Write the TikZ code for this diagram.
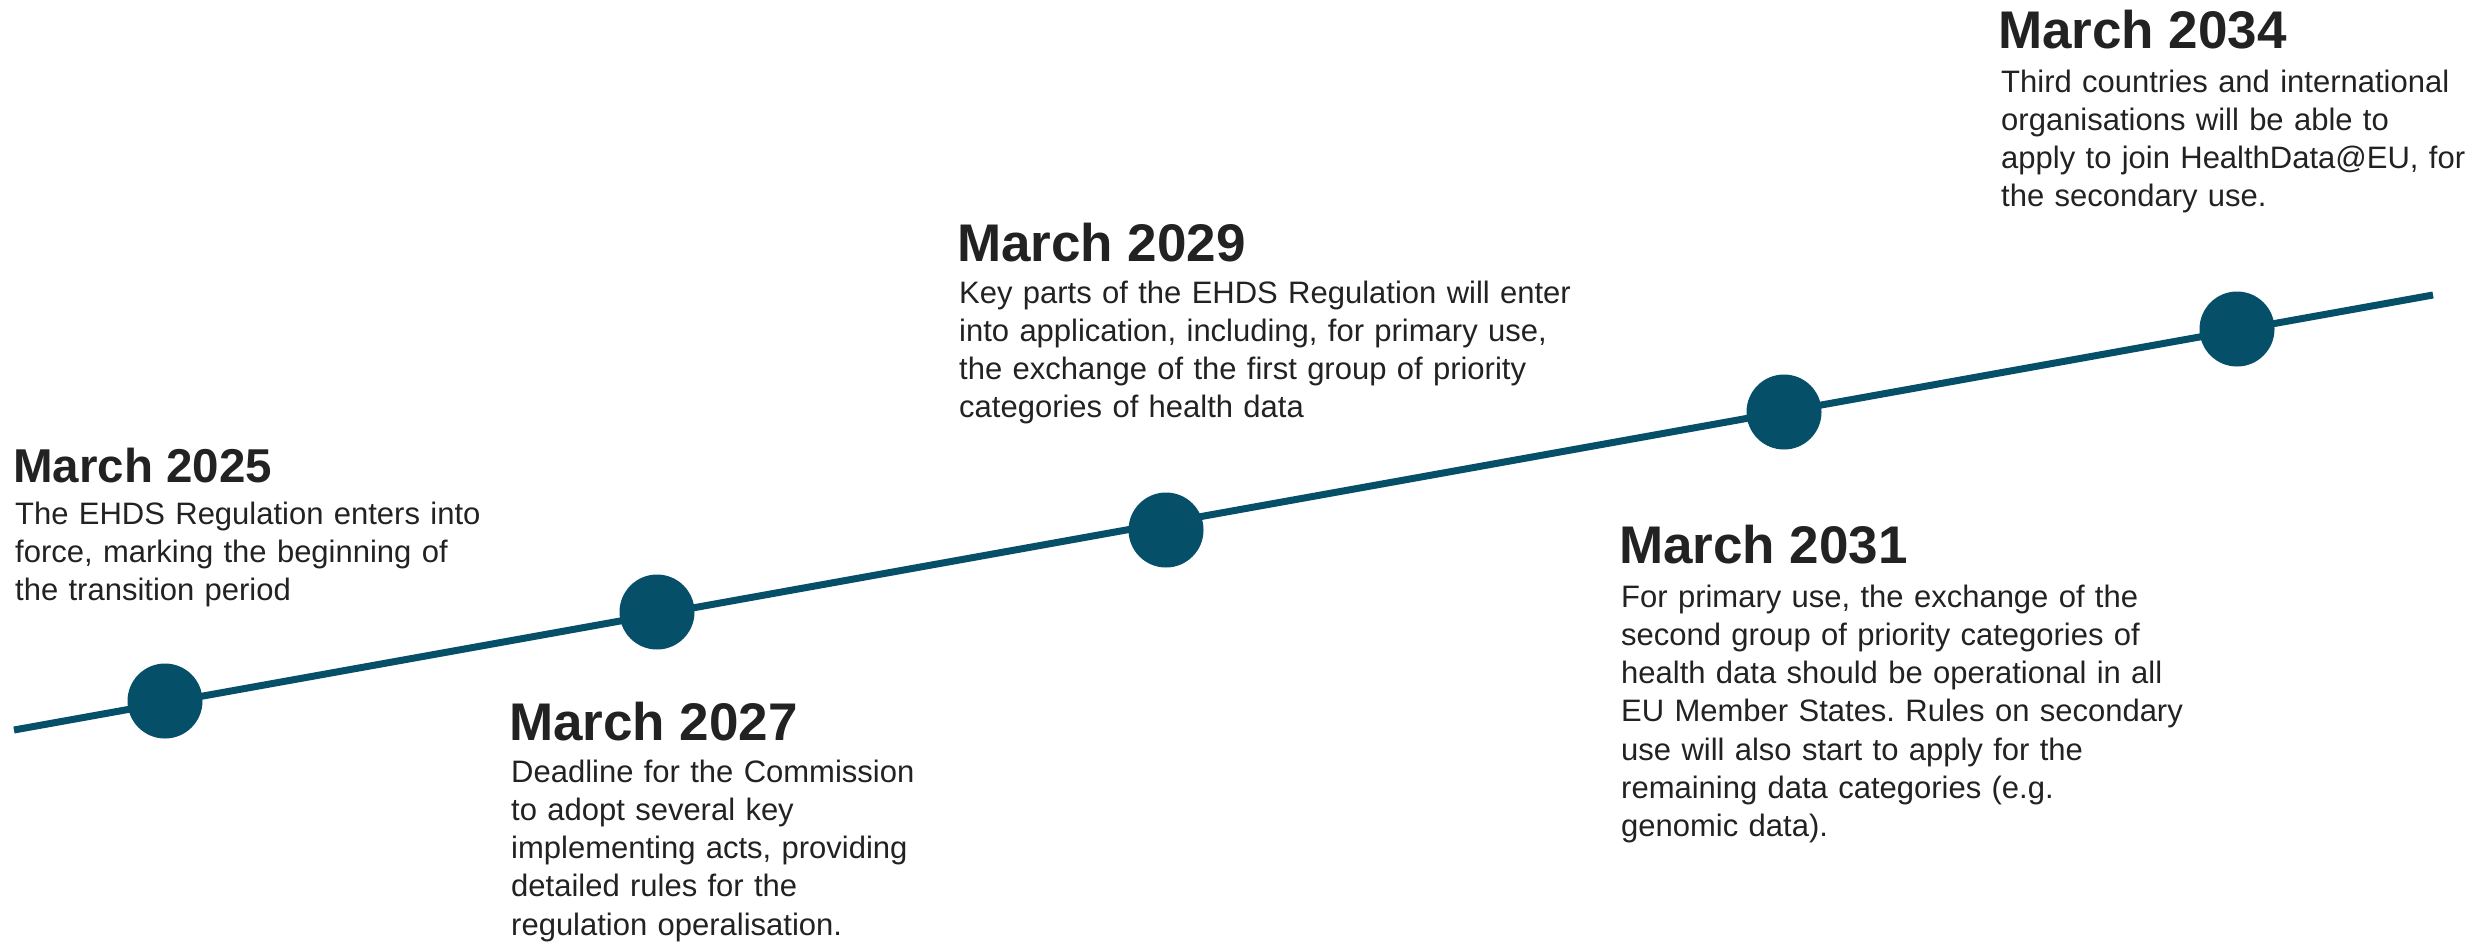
\documentclass[tikz,border=0pt]{standalone}
\usepackage{fontspec}
\setmainfont{Liberation Sans}
\usepackage{xcolor}
\definecolor{ehdsblue}{HTML}{054F69}
\definecolor{ehdsink}{HTML}{222222}
\frenchspacing
\tikzset{
  milestone/.style={circle,fill=ehdsblue,inner sep=0pt,minimum size=75pt},
  datelabel/.style={anchor=base west,inner sep=0pt,text=ehdsink,font=\bfseries\fontsize{53}{60}\selectfont},
  desclabel/.style={anchor=base west,inner sep=0pt,text=ehdsink,align=left,text width=800pt,font=\fontsize{31}{38.3}\selectfont},
}
\begin{document}
\begin{tikzpicture}[x=1pt,y=-1pt]
    \useasboundingbox (0,0) rectangle (2478,943);
    \coordinate (S) at (14,730);
    \coordinate (E) at (2433,295);
    \draw[ehdsblue,line width=7pt] (S) -- (E);
    \node[milestone] (m2025) at (165,701) {};
    \node[milestone] (m2027) at (657,612) {};
    \node[milestone] (m2029) at (1166,530) {};
    \node[milestone] (m2031) at (1784,412) {};
    \node[milestone] (m2034) at (2237,329) {};
    \node[datelabel,font=\bfseries\fontsize{47.5}{54}\selectfont] (d2025) at (13,482) {March 2025};
    \node[desclabel] (t2025) at (15,524) {The EHDS Regulation enters into\\force, marking the beginning of\\the transition period};
    \node[datelabel] (d2027) at (509,740) {March 2027};
    \node[desclabel] (t2027) at (511,782) {Deadline for the Commission\\to adopt several key\\implementing acts, providing\\detailed rules for the\\regulation operalisation.};
    \node[datelabel] (d2029) at (957,261) {March 2029};
    \node[desclabel] (t2029) at (959,303) {Key parts of the EHDS Regulation will enter\\into application, including, for primary use,\\the exchange of the first group of priority\\categories of health data};
    \node[datelabel] (d2031) at (1619,563) {March 2031};
    \node[desclabel] (t2031) at (1621,607) {For primary use, the exchange of the\\second group of priority categories of\\health data should be operational in all\\EU Member States. Rules on secondary\\use will also start to apply for the\\remaining data categories (e.g.\\genomic data).};
    \node[datelabel] (d2034) at (1998,48) {March 2034};
    \node[desclabel] (t2034) at (2001,92) {Third countries and international\\organisations will be able to\\apply to join HealthData@EU, for\\the secondary use.};
\end{tikzpicture}
\end{document}
